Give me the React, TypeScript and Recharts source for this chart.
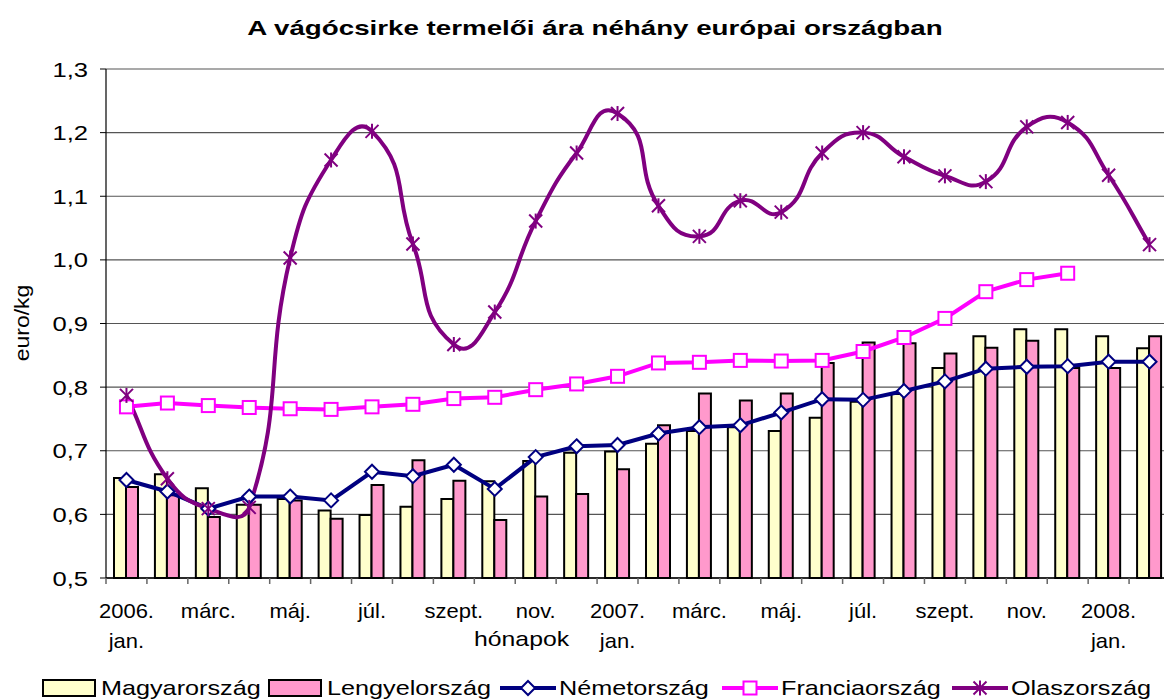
import { ComposedChart, Bar, Line, XAxis, YAxis, CartesianGrid } from 'recharts';

const months = [
  '2006. jan.', '2006. febr.', '2006. márc.', '2006. ápr.', '2006. máj.', '2006. jún.',
  '2006. júl.', '2006. aug.', '2006. szept.', '2006. okt.', '2006. nov.', '2006. dec.',
  '2007. jan.', '2007. febr.', '2007. márc.', '2007. ápr.', '2007. máj.', '2007. jún.',
  '2007. júl.', '2007. aug.', '2007. szept.', '2007. okt.', '2007. nov.', '2007. dec.',
  '2008. jan.', '2008. febr.',
];

const magyar = [
  0.657, 0.663, 0.641, 0.615, 0.624, 0.606, 0.599, 0.612, 0.624, 0.652, 0.684, 0.697, 0.699,
  0.711, 0.731, 0.737, 0.731, 0.752, 0.777, 0.789, 0.83, 0.88, 0.891, 0.891, 0.88, 0.861,
];
const lengyel = [
  0.643, 0.63, 0.596, 0.615, 0.622, 0.593, 0.646, 0.685, 0.653, 0.591, 0.628, 0.632, 0.671,
  0.74, 0.79, 0.779, 0.79, 0.838, 0.87, 0.869, 0.853, 0.862, 0.873, 0.83, 0.83, 0.88,
];
const nemet = [
  0.654, 0.636, 0.609, 0.628, 0.628, 0.622, 0.667, 0.66, 0.678, 0.64, 0.69, 0.707, 0.709,
  0.727, 0.737, 0.74, 0.76, 0.781, 0.78, 0.794, 0.809, 0.829, 0.832, 0.833, 0.84, 0.84,
];
const francia = [
  0.769, 0.775, 0.771, 0.768, 0.766, 0.765, 0.769, 0.773, 0.782, 0.784, 0.796, 0.805, 0.817,
  0.838, 0.839, 0.842, 0.841, 0.842, 0.856, 0.878, 0.908, 0.95, 0.969, 0.979, null, null,
];
const olasz = [
  0.787, 0.656, 0.609, 0.611, 1.003, 1.157, 1.202, 1.025, 0.867, 0.918, 1.061, 1.168, 1.23,
  1.085, 1.037, 1.093, 1.075, 1.168, 1.2, 1.162, 1.132, 1.123, 1.209, 1.216, 1.133, 1.024,
];

const yTicks = [0.5, 0.6, 0.7, 0.8, 0.9, 1.0, 1.1, 1.2, 1.3];

const data = months.map((m, i) => ({
  month: m,
  magyar: magyar[i],
  lengyel: lengyel[i],
  nemet: nemet[i],
  francia: francia[i],
  olasz: olasz[i],
}));

const CHART_W = 1190;
const CHART_H = 700;
const MARGIN = { top: 69, right: 20, bottom: 0, left: 0 };
const Y_W = 106;
const STEP = (CHART_W - MARGIN.right - MARGIN.left - Y_W) / months.length;
const FONT = '"Liberation Sans", Arial, sans-serif';

// Excel-like smoothing: tangent direction from the neighbours, handle length from the segment
const smoothCurve = (context: any) => {
  let pts: number[][] = [];
  const K = 0.45;
  const dir = (a: number[], b: number[]) => {
    const dx = b[0] - a[0];
    const dy = b[1] - a[1];
    const len = Math.hypot(dx, dy) || 1;
    return [dx / len, dy / len];
  };
  return {
    areaStart() {},
    areaEnd() {},
    lineStart() {
      pts = [];
    },
    point(x: number, y: number) {
      pts.push([+x, +y]);
    },
    lineEnd() {
      const n = pts.length;
      if (!n) return;
      context.moveTo(pts[0][0], pts[0][1]);
      const tan = pts.map((_, i) => dir(pts[Math.max(i - 1, 0)], pts[Math.min(i + 1, n - 1)]));
      for (let i = 0; i < n - 1; i++) {
        const p1 = pts[i];
        const p2 = pts[i + 1];
        const h = Math.hypot(p2[0] - p1[0], p2[1] - p1[1]) * K;
        context.bezierCurveTo(
          p1[0] + tan[i][0] * h,
          p1[1] + tan[i][1] * h,
          p2[0] - tan[i + 1][0] * h,
          p2[1] - tan[i + 1][1] * h,
          p2[0],
          p2[1],
        );
      }
    },
  };
};

const Diamond = ({ cx, cy, size = 7, stroke = '#000080' }: any) =>
  cx == null || cy == null ? <g /> : (
    <path
      d={`M${cx},${cy - size}L${cx + size},${cy}L${cx},${cy + size}L${cx - size},${cy}Z`}
      fill="#fff"
      stroke={stroke}
      strokeWidth={2}
    />
  );

const Square = ({ cx, cy, size = 6.5, stroke = '#FF00FF' }: any) =>
  cx == null || cy == null ? <g /> : (
    <rect x={cx - size} y={cy - size} width={size * 2} height={size * 2} fill="#fff" stroke={stroke} strokeWidth={2} />
  );

const Star = ({ cx, cy, size = 6.5, stroke = '#800080' }: any) =>
  cx == null || cy == null ? <g /> : (
    <g stroke={stroke} strokeWidth={2}>
      <line x1={cx - size} y1={cy - size} x2={cx + size} y2={cy + size} />
      <line x1={cx - size} y1={cy + size} x2={cx + size} y2={cy - size} />
      <line x1={cx} y1={cy - size - 1} x2={cx} y2={cy + size + 1} />
    </g>
  );

const MonthTick = ({ x, y, payload, index }: any) => {
  const [year, month] = String(payload.value).split(' ');
  const showLabel = index % 2 === 0;
  const isLast = index === months.length - 1;
  return (
    <g>
      <line x1={x - STEP / 2} y1={y} x2={x - STEP / 2} y2={y + 6} stroke="#666" strokeWidth={1.5} />
      {isLast && <line x1={x + STEP / 2} y1={y} x2={x + STEP / 2} y2={y + 6} stroke="#666" strokeWidth={1.5} />}
      {showLabel && (
        <text
          transform={`translate(${x},${y}) scale(1.1,1)`}
          textAnchor="middle"
          fontSize={20}
          fontFamily={FONT}
          fill="#000"
        >
          {month === 'jan.' ? (
            <>
              <tspan x={0} y={40}>{year}</tspan>
              <tspan x={0} y={70}>{month}</tspan>
            </>
          ) : (
            <tspan x={0} y={40}>{month}</tspan>
          )}
        </text>
      )}
    </g>
  );
};

const ValueTick = ({ x, y, payload }: any) => (
  <text
    transform={`translate(${x},${y}) scale(1.22,1)`}
    textAnchor="end"
    dy="0.36em"
    fontSize={21}
    fontFamily={FONT}
    fill="#000"
  >
    {Number(payload.value).toFixed(1).replace('.', ',')}
  </text>
);

const legendItems = [
  { name: 'Magyarország', kind: 'bar', color: '#FFFFCC', left: 42 },
  { name: 'Lengyelország', kind: 'bar', color: '#FF99CC', left: 268 },
  { name: 'Németország', kind: 'diamond', color: '#000080', left: 500 },
  { name: 'Franciaország', kind: 'square', color: '#FF00FF', left: 722 },
  { name: 'Olaszország', kind: 'star', color: '#800080', left: 952 },
];

const LegendIcon = ({ kind, color }: { kind: string; color: string }) => (
  <svg width={56} height={22} style={{ marginRight: 3, flex: 'none' }}>
    {kind === 'bar' ? (
      <rect x={1} y={3} width={52} height={16} fill={color} stroke="#000" strokeWidth={2} />
    ) : (
      <>
        <line x1={0} y1={11} x2={56} y2={11} stroke={color} strokeWidth={4} />
        {kind === 'diamond' && <Diamond cx={28} cy={11} stroke={color} />}
        {kind === 'square' && <Square cx={28} cy={11} stroke={color} />}
        {kind === 'star' && <Star cx={28} cy={11} stroke={color} />}
      </>
    )}
  </svg>
);

export default function App() {
  return (
    <div
      style={{
        position: 'absolute',
        left: 0,
        top: 0,
        width: 1164,
        height: 700,
        overflow: 'hidden',
        background: '#fff',
        fontFamily: FONT,
      }}
    >
      <div
        style={{
          position: 'absolute',
          left: 0,
          top: 15,
          width: CHART_W,
          textAlign: 'center',
          fontSize: 21,
          fontWeight: 'bold',
          lineHeight: '26px',
          transform: 'scaleX(1.32)',
          transformOrigin: '595px 0',
        }}
      >
        A vágócsirke termelői ára néhány európai országban
      </div>
      <div
        style={{
          position: 'absolute',
          left: 22,
          top: 323,
          transform: 'translate(-50%, -50%) rotate(-90deg) scaleX(1.15)',
          fontSize: 20,
          whiteSpace: 'nowrap',
        }}
      >
        euro/kg
      </div>
      <div
        style={{
          position: 'absolute',
          left: 474,
          top: 627,
          fontSize: 21,
          lineHeight: '24px',
          transform: 'scaleX(1.18)',
          transformOrigin: '0 0',
        }}
      >
        hónapok
      </div>

      <ComposedChart width={CHART_W} height={CHART_H} data={data} margin={MARGIN} barGap={0} barSize={12}>
        <CartesianGrid vertical={false} stroke="#555" strokeWidth={1.2} />
        <XAxis
          dataKey="month"
          interval={0}
          height={122}
          tickSize={0}
          tickMargin={0}
          tickLine={false}
          axisLine={{ stroke: '#000', strokeWidth: 1.5 }}
          tick={<MonthTick />}
        />
        <YAxis
          width={Y_W}
          domain={[0.5, 1.3]}
          ticks={yTicks}
          interval={0}
          tickSize={6}
          tickMargin={12}
          tick={<ValueTick />}
          tickLine={{ stroke: '#000' }}
          axisLine={{ stroke: '#000', strokeWidth: 1.2 }}
        />
        <Bar dataKey="magyar" fill="#FFFFCC" stroke="#000" strokeWidth={2} isAnimationActive={false} />
        <Bar dataKey="lengyel" fill="#FF99CC" stroke="#000" strokeWidth={2} isAnimationActive={false} />
        <Line
          dataKey="nemet"
          type="linear"
          stroke="#000080"
          strokeWidth={4}
          dot={<Diamond />}
          activeDot={false}
          isAnimationActive={false}
        />
        <Line
          dataKey="francia"
          type="linear"
          stroke="#FF00FF"
          strokeWidth={4}
          dot={<Square />}
          activeDot={false}
          isAnimationActive={false}
        />
        <Line
          dataKey="olasz"
          type={smoothCurve as any}
          stroke="#800080"
          strokeWidth={4}
          dot={<Star />}
          activeDot={false}
          isAnimationActive={false}
        />
      </ComposedChart>

      {legendItems.map((it) => (
        <div
          key={it.name}
          style={{
            position: 'absolute',
            left: it.left,
            top: 677,
            display: 'flex',
            alignItems: 'center',
            fontSize: 21,
            lineHeight: '22px',
            whiteSpace: 'nowrap',
          }}
        >
          <LegendIcon kind={it.kind} color={it.color} />
          <span style={{ display: 'inline-block', transform: 'scaleX(1.2)', transformOrigin: '0 50%' }}>
            {it.name}
          </span>
        </div>
      ))}
    </div>
  );
}
